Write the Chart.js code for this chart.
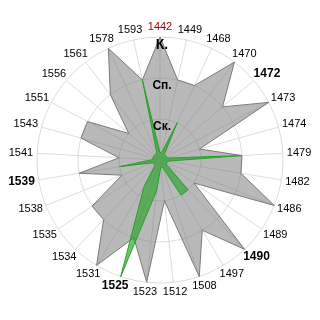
<!DOCTYPE html>
<html>
<head>
<meta charset="utf-8">
<script src="https://cdn.jsdelivr.net/npm/chart.js@4/dist/chart.umd.min.js"></script>
<style>
  html, body { margin: 0; padding: 0; background: #fff; }
  #chart { display: block; }
</style>
</head>
<body>
<canvas id="chart" width="320" height="320"></canvas>
<script>
// ===== data =====
const years = ['1442', '1449', '1468', '1470', '1472', '1473', '1474', '1479', '1482', '1486',
  '1489', '1490', '1497', '1508', '1512', '1523', '1525', '1531', '1534', '1535',
  '1538', '1539', '1541', '1543', '1551', '1556', '1561', '1578', '1593'];
const grayValues = [3, 2, 2, 3, 2, 3, 1, 2, 2, 3,
  1, 3, 2, 3, 1, 3, 2, 3, 2, 2,
  1, 2, 1, 2, 2, 1, 2, 3, 2];
const greenValues = [0.18, 0.18, 1, 0.18, 0.18, 0.18, 0.18, 2, 0.18, 0.18,
  0.18, 1, 1, 0.18, 0.18, 0.75, 3, 0.75, 0.18, 0.18,
  0.18, 1, 0.18, 0.18, 0.18, 0.18, 0.18, 0.18, 2];
const tickValues = [1, 2, 3];
const tickNames = ['Ск.', 'Сп.', 'К.'];
const boldYears = ['1472', '1490', '1525', '1539'];
const redYears = ['1442'];

// ===== chart =====
const font = 'Liberation Sans, Arial, sans-serif';

// ring names under each ring on the top axis, and the years round the edge
// (years are pushed out smoothly by their own size, not snapped left/right)
const textLayer = {
  id: 'textLayer',
  afterDatasetsDraw(chart) {
    const r = chart.scales.r;
    const ctx = chart.ctx;
    ctx.save();
    ctx.textAlign = 'center';
    ctx.textBaseline = 'middle';

    ctx.fillStyle = '#000';
    tickValues.forEach((v, i) => {
      const d = r.getDistanceFromCenterForValue(v);
      ctx.font = 'bold ' + (i === 2 ? 14 : 12) + 'px ' + font;
      ctx.fillText(tickNames[i], r.xCenter + 2, r.yCenter - d + 8);
    });

    const outer = r.getDistanceFromCenterForValue(r.max) + 4;
    years.forEach((y, i) => {
      const bold = boldYears.includes(y);
      ctx.font = (bold ? 'bold 12px ' : '11px ') + font;
      ctx.fillStyle = redYears.includes(y) ? '#990000' : '#000';
      const a = r.getIndexAngle(i);
      const p = r.getPointPosition(i, outer);
      const w = ctx.measureText(y).width;
      ctx.fillText(y, p.x + Math.sin(a) * w / 2, p.y - Math.cos(a) * 6);
    });
    ctx.restore();
  },
};

new Chart(document.getElementById('chart'), {
  type: 'radar',
  data: {
    labels: years,
    datasets: [
      {
        data: greenValues,
        backgroundColor: 'rgba(30,160,30,0.6)',
        borderColor: 'rgb(40,160,40)',
        borderWidth: 1,
        fill: true,
        pointRadius: 0,
        order: 0,
      },
      {
        data: grayValues,
        backgroundColor: 'rgba(120,120,120,0.52)',
        borderColor: '#7a7a7a',
        borderWidth: 1,
        fill: true,
        pointRadius: 0,
        order: 1,
      },
    ],
  },
  options: {
    responsive: false,
    animation: false,
    devicePixelRatio: 1,
    layout: { padding: 37 },
    elements: { line: { tension: 0 } },
    plugins: { legend: { display: false }, tooltip: { enabled: false } },
    scales: {
      r: {
        min: 0,
        max: 3,
        grid: { circular: true, color: '#dcdcdc' },
        angleLines: { color: '#dcdcdc' },
        ticks: { stepSize: 1, display: false },
        pointLabels: { display: false },
      },
    },
  },
  plugins: [textLayer],
});
</script>
</body>
</html>
